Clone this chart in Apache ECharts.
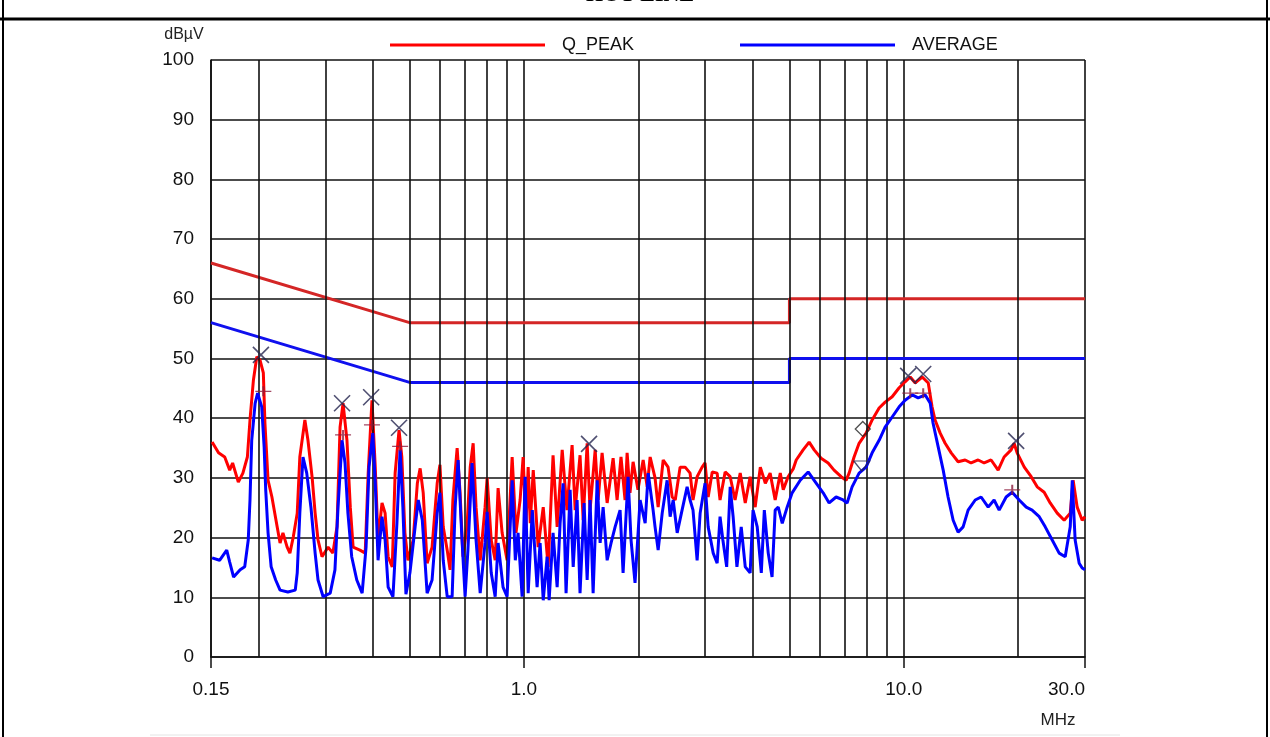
<!DOCTYPE html>
<html>
<head>
<meta charset="utf-8">
<script src="https://cdn.jsdelivr.net/npm/echarts@6/dist/echarts.min.js"></script>
<style>
  html, body { margin: 0; padding: 0; background: #fff; }
  #chart { width: 1270px; height: 737px; }
</style>
</head>
<body>
<div id="chart"></div>
<script>
// frequency in MHz, level in dBuV
var qPeakTrace = [
  [0.151,36.0],[0.157,34.2],[0.163,33.5],[0.168,31.3],[0.171,32.5],[0.177,29.3],[0.182,30.8],[0.187,33.5],
  [0.190,39.7],[0.194,46.4],[0.198,50.3],[0.202,49.7],[0.206,47.6],[0.208,39.2],[0.212,29.6],[0.217,26.8],
  [0.224,21.8],[0.228,19.1],[0.232,20.8],[0.238,18.4],[0.242,17.4],[0.247,20.1],[0.253,24.1],[0.257,33.5],
  [0.265,39.7],[0.270,36.3],[0.277,30.0],[0.282,24.1],[0.287,19.6],[0.294,16.8],[0.305,18.4],[0.314,17.4],
  [0.322,21.8],[0.328,38.5],[0.334,42.5],[0.342,36.3],[0.349,25.1],[0.355,18.4],[0.370,17.9],[0.382,17.4],
  [0.389,30.8],[0.398,43.0],[0.406,31.8],[0.413,19.6],[0.423,25.8],[0.431,24.1],[0.439,16.8],[0.450,15.1],
  [0.458,30.8],[0.469,38.0],[0.477,33.5],[0.486,20.8],[0.495,16.2],[0.511,19.6],[0.524,29.1],[0.533,31.6],
  [0.543,27.5],[0.556,15.7],[0.573,18.4],[0.591,29.1],[0.601,32.2],[0.613,21.8],[0.628,17.9],[0.639,14.6],
  [0.650,26.3],[0.667,35.0],[0.679,27.5],[0.691,16.8],[0.708,21.8],[0.722,31.8],[0.735,35.8],[0.748,25.1],
  [0.767,16.2],[0.790,25.1],[0.800,30.0],[0.820,19.6],[0.840,16.2],[0.855,28.3],[0.876,20.8],[0.903,16.2],
  [0.931,33.5],[0.953,20.8],[0.977,26.3],[0.995,33.5],[1.012,21.8],[1.026,31.8],[1.039,22.4],[1.058,31.3],
  [1.090,18.4],[1.124,25.1],[1.158,15.1],[1.193,33.8],[1.223,21.8],[1.261,34.7],[1.298,24.6],[1.339,35.5],
  [1.364,24.6],[1.405,33.8],[1.432,22.9],[1.467,35.8],[1.493,24.6],[1.540,34.7],[1.568,26.3],[1.606,34.2],
  [1.656,25.8],[1.717,33.3],[1.759,26.3],[1.801,33.5],[1.846,26.3],[1.869,34.2],[1.902,27.5],[1.938,32.7],
  [1.996,28.0],[2.060,33.0],[2.111,28.5],[2.149,33.5],[2.214,30.0],[2.256,25.1],[2.326,33.0],[2.396,31.8],
  [2.456,26.8],[2.502,26.3],[2.577,31.8],[2.657,31.8],[2.738,30.8],[2.787,26.3],[2.857,30.2],[2.945,31.8],
  [2.998,32.5],[3.055,26.8],[3.131,31.0],[3.226,30.8],[3.283,26.3],[3.386,31.0],[3.491,30.2],[3.596,26.3],
  [3.710,30.8],[3.825,25.8],[3.940,30.2],[4.062,25.1],[4.191,31.8],[4.320,29.1],[4.448,30.8],[4.586,26.3],
  [4.730,30.8],[4.816,28.0],[4.960,30.2],[5.115,31.5],[5.210,33.0],[5.433,34.7],[5.635,36.0],[5.809,34.7],
  [6.057,33.3],[6.322,32.5],[6.553,31.3],[6.840,30.2],[7.048,29.6],[7.180,30.8],[7.399,33.5],[7.627,35.8],
  [7.958,37.5],[8.255,39.7],[8.612,41.7],[8.931,42.7],[9.320,43.6],[9.724,45.1],[10.08,46.1],[10.40,46.9],
  [10.72,45.9],[11.18,46.9],[11.60,45.9],[11.87,41.9],[12.09,39.7],[12.47,37.5],[12.85,35.8],[13.33,34.2],
  [13.90,32.7],[14.51,33.0],[15.04,32.5],[15.70,33.0],[16.28,32.5],[16.98,33.0],[17.72,31.3],[18.37,33.5],
  [19.17,34.7],[19.52,35.8],[19.88,34.2],[20.76,31.8],[21.65,30.2],[22.45,28.5],[23.42,27.6],[24.29,25.8],
  [25.35,24.1],[26.44,22.9],[27.43,24.1],[27.92,29.6],[28.61,25.1],[29.49,22.9],[30.0,23.5]
];

var averageTrace = [
  [0.151,16.6],[0.158,16.2],[0.165,17.9],[0.168,15.9],[0.172,13.4],[0.179,14.6],[0.184,15.1],[0.188,19.6],
  [0.190,26.3],[0.192,36.3],[0.196,42.5],[0.199,44.2],[0.204,41.9],[0.207,35.2],[0.209,28.0],[0.212,20.8],
  [0.216,15.1],[0.222,12.9],[0.228,11.2],[0.239,10.9],[0.250,11.2],[0.253,14.1],[0.257,24.1],[0.262,33.5],
  [0.268,30.8],[0.275,25.0],[0.282,17.4],[0.287,12.9],[0.296,10.1],[0.309,10.7],[0.318,14.6],[0.324,25.1],
  [0.332,36.3],[0.338,32.5],[0.344,24.1],[0.352,16.8],[0.363,12.9],[0.375,10.7],[0.384,18.4],[0.391,31.8],
  [0.400,37.5],[0.406,29.1],[0.413,16.2],[0.423,23.5],[0.431,19.6],[0.439,11.7],[0.452,10.1],[0.463,22.4],
  [0.472,34.7],[0.480,25.1],[0.489,10.5],[0.501,14.1],[0.517,21.8],[0.527,26.3],[0.540,22.9],[0.556,10.7],
  [0.573,12.9],[0.591,24.1],[0.601,27.5],[0.613,16.2],[0.628,10.1],[0.647,10.1],[0.659,25.1],[0.671,33.0],
  [0.687,19.6],[0.700,10.1],[0.712,17.9],[0.730,32.5],[0.748,19.6],[0.767,10.7],[0.790,19.1],[0.800,24.3],
  [0.820,14.1],[0.840,10.1],[0.855,19.1],[0.881,11.7],[0.903,10.1],[0.931,29.6],[0.949,16.2],[0.965,20.8],
  [0.989,10.1],[1.007,30.2],[1.026,10.7],[1.052,24.6],[1.083,11.7],[1.103,19.1],[1.124,9.5],[1.151,16.8],
  [1.165,9.5],[1.193,20.8],[1.223,11.7],[1.245,22.4],[1.268,29.1],[1.291,10.7],[1.323,28.0],[1.348,15.1],
  [1.380,26.3],[1.405,10.7],[1.440,25.8],[1.467,12.9],[1.493,26.3],[1.521,10.7],[1.559,29.6],[1.587,19.1],
  [1.616,25.1],[1.656,16.2],[1.696,19.1],[1.738,21.8],[1.791,24.6],[1.824,14.1],[1.880,30.2],[1.914,19.6],
  [1.961,12.4],[2.022,26.3],[2.085,22.4],[2.124,30.8],[2.188,24.6],[2.214,21.8],[2.256,17.9],[2.312,24.1],
  [2.382,29.6],[2.426,23.5],[2.471,26.3],[2.532,20.8],[2.608,24.6],[2.689,28.5],[2.738,26.3],[2.787,24.6],
  [2.857,16.2],[2.910,24.1],[2.998,29.1],[3.055,21.8],[3.150,17.4],[3.226,15.7],[3.283,23.5],[3.340,19.6],
  [3.418,15.1],[3.491,28.5],[3.554,23.5],[3.637,15.1],[3.733,21.8],[3.825,15.1],[3.940,14.1],[4.010,24.6],
  [4.113,21.8],[4.216,14.1],[4.294,24.6],[4.397,17.4],[4.500,13.4],[4.586,24.6],[4.672,25.1],[4.787,22.4],
  [4.931,25.1],[5.083,27.5],[5.338,29.6],[5.601,31.0],[5.809,29.6],[6.133,27.5],[6.360,25.8],[6.635,26.8],
  [6.922,26.3],[7.092,25.8],[7.311,28.5],[7.627,30.8],[7.958,31.8],[8.255,34.2],[8.612,36.3],[8.931,38.5],
  [9.320,40.2],[9.724,41.9],[10.08,43.0],[10.53,43.9],[10.91,43.4],[11.39,43.9],[11.74,42.5],[11.94,39.2],
  [12.32,35.2],[12.70,31.3],[13.08,26.8],[13.49,22.9],[13.90,20.9],[14.33,21.8],[14.77,24.6],[15.42,26.3],
  [15.98,26.8],[16.68,25.1],[17.29,26.3],[17.83,24.6],[18.60,26.8],[19.29,27.6],[20.13,26.3],[21.01,25.1],
  [21.77,24.6],[22.73,23.5],[23.57,21.8],[24.59,19.6],[25.65,17.4],[26.61,16.8],[27.43,21.8],[27.77,29.6],
  [28.26,19.6],[28.96,15.7],[29.49,14.9],[30.0,14.6]
];

var qpLimit = [[0.15,66],[0.5,56],[5,56],[5,60],[30,60]];
var avLimit = [[0.15,56],[0.5,46],[5,46],[5,50],[30,50]];

var qpPeakMarks = [[0.203,50.6],[0.332,42.5],[0.396,43.5],[0.469,38.4],[1.484,35.7],[10.27,47.1],[11.25,47.4],[19.76,36.2]];
var avPeakMarks = [[0.206,44.5],[0.334,37.2],[0.398,38.9],[0.472,35.3],[10.40,44.2],[11.25,44.2],[19.30,28.0]];
var diamondMarks = [[7.80,38.2]];
var triangleMarks = [[7.75,32.0]];

var gridFreqs = [0.2,0.3,0.4,0.5,0.6,0.7,0.8,0.9,2,3,4,5,6,7,8,9,20];

var chart = echarts.init(document.getElementById('chart'));
var font = 'Liberation Sans, Arial, sans-serif';
var markColor = '#23234d';

var option = {
  animation: false,
  backgroundColor: '#fff',
  grid: { left: 211, right: 185, top: 60, bottom: 80 },
  legend: [
    { left: 385, top: 31, data: ['Q_PEAK'], icon: 'rect', itemWidth: 155, itemHeight: 3,
      textStyle: { fontFamily: font, fontSize: 18, color: '#111', padding: [0, 0, 0, 12] } },
    { left: 735, top: 31, data: ['AVERAGE'], icon: 'rect', itemWidth: 155, itemHeight: 3,
      textStyle: { fontFamily: font, fontSize: 18, color: '#111', padding: [0, 0, 0, 12] } }
  ],
  graphic: [
    { type: 'line', shape: { x1: 0, y1: 19, x2: 1270, y2: 19 }, style: { stroke: '#000', lineWidth: 3 } },
    { type: 'line', shape: { x1: 3, y1: 0, x2: 3, y2: 737 }, style: { stroke: '#000', lineWidth: 2 } },
    { type: 'line', shape: { x1: 1267, y1: 0, x2: 1267, y2: 737 }, style: { stroke: '#000', lineWidth: 2 } },
    { type: 'line', shape: { x1: 150, y1: 735, x2: 1120, y2: 735 }, style: { stroke: '#e4e4e4', lineWidth: 1 } },
    { type: 'text', x: 640, y: 6, style: { text: 'HOT LINE', font: 'bold 22px "Liberation Serif", serif', fill: '#000', align: 'center', verticalAlign: 'bottom' } },
    { type: 'text', x: 184, y: 35, style: { text: 'dBµV', font: '16px ' + font, fill: '#222', align: 'center', verticalAlign: 'middle' } },
    { type: 'text', x: 1058, y: 720, style: { text: 'MHz', font: '17px ' + font, fill: '#222', align: 'center', verticalAlign: 'middle' } }
  ],
  xAxis: {
    type: 'log', logBase: 10, min: 0.15, max: 30,
    axisLine: { show: true, lineStyle: { color: '#111', width: 1.5 } },
    axisTick: { show: true, length: 11, lineStyle: { color: '#111', width: 1.5 } },
    splitLine: { show: true, lineStyle: { color: '#111', width: 1.6 } },
    minorTick: { show: false }, minorSplitLine: { show: false },
    axisLabel: {
      margin: 23, fontFamily: font, fontSize: 19, color: '#111', alignMaxLabel: 'right',
      formatter: function (v) { return v < 0.5 ? v.toFixed(2) : v.toFixed(1); }
    }
  },
  yAxis: {
    type: 'value', min: 0, max: 100, interval: 10,
    axisLine: { show: true, lineStyle: { color: '#111', width: 1.6 } },
    axisTick: { show: false },
    splitLine: { show: true, lineStyle: { color: '#111', width: 1.6 } },
    axisLabel: { margin: 17, fontFamily: font, fontSize: 19, color: '#111' }
  },
  series: [
    {
      name: 'grid', type: 'line', data: [], z: 1, silent: true,
      markLine: {
        silent: true, symbol: ['none', 'none'], label: { show: false },
        lineStyle: { color: '#111', width: 1.6, type: 'solid' },
        emphasis: { disabled: true },
        data: gridFreqs.map(function (f) { return { xAxis: f }; })
      }
    },
    {
      name: 'QP limit', type: 'line', data: qpLimit, showSymbol: false, z: 3,
      lineStyle: { color: '#d42626', width: 3 }, itemStyle: { color: '#d42626' }
    },
    {
      name: 'AV limit', type: 'line', data: avLimit, showSymbol: false, z: 3,
      lineStyle: { color: '#1010ee', width: 3 }, itemStyle: { color: '#1010ee' }
    },
    {
      name: 'Q_PEAK', type: 'line', data: qPeakTrace, showSymbol: false, z: 4,
      lineStyle: { color: '#ff0000', width: 3 }, itemStyle: { color: '#ff0000' }
    },
    {
      name: 'AVERAGE', type: 'line', data: averageTrace, showSymbol: false, z: 5,
      lineStyle: { color: '#0000ff', width: 3 }, itemStyle: { color: '#0000ff' }
    },
    {
      name: 'qp marks', type: 'scatter', data: qpPeakMarks, z: 6, symbolSize: 16,
      symbol: 'path://M0,0L10,10M10,0L0,10',
      itemStyle: { color: 'none', borderColor: markColor, borderWidth: 1.6 }
    },
    {
      name: 'av marks', type: 'scatter', data: avPeakMarks, z: 6, symbolSize: [16, 10],
      symbol: 'path://M0,5L10,5M5,0L5,10',
      itemStyle: { color: 'none', borderColor: '#8c1c3c', borderWidth: 1.6 }
    },
    {
      name: 'diamond', type: 'scatter', data: diamondMarks, z: 6, symbolSize: 15,
      symbol: 'path://M5,0L10,5L5,10L0,5Z',
      itemStyle: { color: 'none', borderColor: '#222', borderWidth: 1.3 }
    },
    {
      name: 'triangle', type: 'scatter', data: triangleMarks, z: 6, symbolSize: [16, 10],
      symbol: 'path://M0,0L10,0L5,10Z',
      itemStyle: { color: 'none', borderColor: markColor, borderWidth: 1.3 }
    }
  ]
};

chart.setOption(option);
</script>
</body>
</html>
